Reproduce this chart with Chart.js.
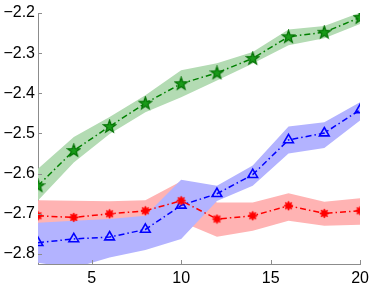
<!DOCTYPE html>
<html>
<head>
<meta charset="utf-8">
<script src="https://cdn.jsdelivr.net/npm/chart.js@4.4.1/dist/chart.umd.min.js"></script>
<style>
html,body{margin:0;padding:0;background:#fff;}
#wrap{width:374px;height:285px;}
</style>
</head>
<body>
<div id="wrap"><canvas id="c" width="374" height="285"></canvas></div>
<script>
// ---- data ----
const xs = [2, 4, 6, 8, 10, 12, 14, 16, 18, 20];
const greenMean  = [-2.630, -2.5425, -2.4825, -2.4245, -2.376, -2.349, -2.313, -2.259, -2.248, -2.211];
const greenUpper = [-2.588, -2.509, -2.459, -2.405, -2.3425, -2.325, -2.297, -2.241, -2.2325, -2.199];
const greenLower = [-2.667, -2.572, -2.501, -2.447, -2.410, -2.368, -2.326, -2.280, -2.263, -2.2275];
const redMean    = [-2.705, -2.709, -2.700, -2.6925, -2.6675, -2.713, -2.705, -2.680, -2.699, -2.6925];
const redUpper   = [-2.666, -2.6675, -2.669, -2.666, -2.619, -2.672, -2.672, -2.649, -2.670, -2.661];
const redLower   = [-2.745, -2.750, -2.740, -2.730, -2.720, -2.757, -2.7425, -2.7175, -2.730, -2.7275];
const blueMean   = [-2.772, -2.7625, -2.758, -2.739, -2.679, -2.650, -2.6025, -2.516, -2.499, -2.441];
const blueUpper  = [-2.722, -2.7175, -2.713, -2.705, -2.615, -2.630, -2.580, -2.4825, -2.472, -2.422];
const blueLower  = [-2.822, -2.835, -2.809, -2.790, -2.763, -2.668, -2.630, -2.550, -2.536, -2.4675];
const xTicks = [5, 10, 15, 20];
const xTickLabels = ['5', '10', '15', '20'];
const yTicks = [-2.8, -2.7, -2.6, -2.5, -2.4, -2.3, -2.2];
const yTickLabels = ['\u22122.8', '\u22122.7', '\u22122.6', '\u22122.5', '\u22122.4', '\u22122.3', '\u22122.2'];

function pts(arr){ return xs.map((x,i)=>({x:x, y:arr[i]})); }

// ---- markers ----
function makeStar(){
  const c = document.createElement('canvas'); c.width = 15; c.height = 15;
  const g = c.getContext('2d');
  const cx = 7.5, cy = 7.8, R = 6.6, r = 2.7;
  g.beginPath();
  for (let i = 0; i < 10; i++){
    const a = -Math.PI/2 + i*Math.PI/5;
    const rad = i%2===0 ? R : r;
    const px = cx + rad*Math.cos(a), py = cy + rad*Math.sin(a);
    if (i===0) g.moveTo(px,py); else g.lineTo(px,py);
  }
  g.closePath();
  g.fillStyle = '#1a9a1a'; g.fill();
  g.strokeStyle = '#007000'; g.lineWidth = 1.2; g.stroke();
  return c;
}
function makeAst(){
  const c = document.createElement('canvas'); c.width = 11; c.height = 11;
  const g = c.getContext('2d');
  const cx = 5.5, cy = 5.5;
  g.fillStyle = '#ff0000';
  g.beginPath(); g.arc(cx, cy, 3.2, 0, Math.PI*2); g.fill();
  g.strokeStyle = '#ff0000'; g.lineWidth = 1.6;
  for (let i = 0; i < 4; i++){
    const a = i*Math.PI/4;
    g.beginPath();
    g.moveTo(cx - 4.6*Math.cos(a), cy - 4.6*Math.sin(a));
    g.lineTo(cx + 4.6*Math.cos(a), cy + 4.6*Math.sin(a));
    g.stroke();
  }
  return c;
}
const starImg = makeStar();
const astImg = makeAst();

const dashDot = [6, 3, 1.5, 3];

function band(data, color, order, fillTarget){
  return {
    data: pts(data), borderWidth: 0, pointRadius: 0, backgroundColor: color,
    borderColor: color, fill: fillTarget === null ? false : {target: fillTarget},
    order: order, tension: 0
  };
}

const datasets = [
  band(greenUpper, '#b3dbb3', 6, null),
  band(greenLower, '#b3dbb3', 6, 0),
  band(redUpper, '#ffb3b3', 5, null),
  band(redLower, '#ffb3b3', 5, 2),
  band(blueUpper, '#b3b3ff', 4, null),
  band(blueLower, '#b3b3ff', 4, 4),
  { data: pts(greenMean), borderColor: '#008000', borderWidth: 1.5, borderDash: dashDot,
    pointStyle: starImg, pointRadius: 7, fill: false, order: 2 },
  { data: pts(blueMean), borderColor: '#0000ff', borderWidth: 1.5, borderDash: dashDot,
    pointStyle: 'triangle', pointRadius: 5.6, pointBorderWidth: 1.6,
    pointBorderColor: '#0000ff', pointBackgroundColor: 'rgba(0,0,0,0)', fill: false, order: 1 },
  { data: pts(redMean), borderColor: '#ff0000', borderWidth: 1.5, borderDash: dashDot,
    pointStyle: astImg, pointRadius: 5, fill: false, order: 0 }
];

const innerTicks = {
  id: 'innerTicks',
  afterDraw(chart){
    const ctx = chart.ctx, a = chart.chartArea;
    const xs_ = chart.scales.x, ys_ = chart.scales.y;
    ctx.save();
    ctx.strokeStyle = '#8c8c8c'; ctx.lineWidth = 1;
    xTicks.forEach(v => {
      const px = Math.round(xs_.getPixelForValue(v)) + 0.5;
      ctx.beginPath(); ctx.moveTo(px, a.bottom); ctx.lineTo(px, a.bottom - 4); ctx.stroke();
    });
    yTicks.forEach(v => {
      const py = Math.round(ys_.getPixelForValue(v)) + 0.5;
      ctx.beginPath(); ctx.moveTo(a.left, py); ctx.lineTo(a.left + 4, py); ctx.stroke();
    });
    ctx.restore();
  }
};

new Chart(document.getElementById('c'), {
  type: 'line',
  data: { datasets: datasets },
  options: {
    responsive: false, animation: false,
    layout: { padding: { top: 13, right: 13, left: 0, bottom: 0 } },
    plugins: { legend: { display: false }, tooltip: { enabled: false } },
    elements: { line: { tension: 0 } },
    scales: {
      x: {
        type: 'linear', min: 2, max: 20,
        afterBuildTicks: s => { s.ticks = xTicks.map(v => ({value: v})); },
        afterFit: s => { s.height = 21; },
        grid: { display: false, drawTicks: false },
        border: { display: true, color: '#8c8c8c', width: 1 },
        ticks: { color: '#000', font: { family: 'Liberation Sans, Arial, sans-serif', size: 16 },
          padding: 5, maxRotation: 0, autoSkip: false,
          callback: v => { const i = xTicks.indexOf(v); return i >= 0 ? xTickLabels[i] : ''; } }
      },
      y: {
        type: 'linear', min: -2.825, max: -2.2,
        afterBuildTicks: s => { s.ticks = yTicks.map(v => ({value: v})); },
        afterFit: s => { s.width = 38; },
        grid: { display: false, drawTicks: false },
        border: { display: true, color: '#8c8c8c', width: 1 },
        ticks: { color: '#000', font: { family: 'Liberation Sans, Arial, sans-serif', size: 16 },
          padding: 3, autoSkip: false,
          callback: v => { const i = yTicks.findIndex(t => Math.abs(t - v) < 1e-9); return i >= 0 ? yTickLabels[i] : ''; } }
      }
    }
  },
  plugins: [innerTicks]
});
</script>
</body>
</html>
